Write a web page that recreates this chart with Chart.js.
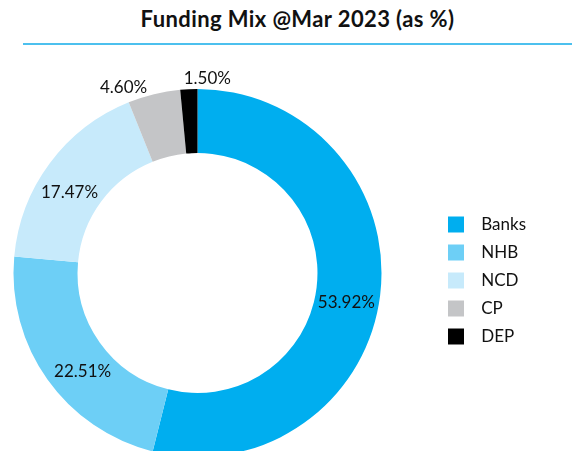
<!DOCTYPE html>
<html>
<head>
<meta charset="utf-8">
<script src="https://cdn.jsdelivr.net/npm/chart.js@4.4.0/dist/chart.umd.min.js"></script>
<style>
  html, body { margin: 0; padding: 0; background: #fff; }
  body { width: 572px; height: 451px; overflow: hidden; position: relative; font-family: Lato, sans-serif; }
  #title {
    position: absolute; left: 23px; right: 0; top: 7px; height: 36px;
    text-align: center; font-weight: bold; font-size: 22px; letter-spacing: 0.4px; line-height: 24px; color: #111;
    border-bottom: 2px solid #4cc0ee;
  }
  #wrap { position: absolute; left: -42px; top: 59px; width: 614px; height: 398px; }
</style>
</head>
<body>
<div id="title">Funding Mix @Mar 2023 (as %)</div>
<div id="wrap"><canvas id="fundingChart"></canvas></div>
<script>
const categories = ['Banks', 'NHB', 'NCD', 'CP', 'DEP'];
const shares = [53.92, 22.51, 17.47, 4.60, 1.50];
const shareLabels = ['53.92%', '22.51%', '17.47%', '4.60%', '1.50%'];

const sliceColors = ['#00aeef', '#6dcff6', '#c7eafb', '#c4c5c7', '#000000'];
// label nudges from the ring middle, in px
const labelNudge = [[-2, 11], [9, 11], [-6, 10], [-38, -38], [17, -43]];

const sliceLabels = {
    id: 'sliceLabels',
    afterDatasetsDraw(chart) {
        const ctx = chart.ctx;
        const arcs = chart.getDatasetMeta(0).data;
        ctx.save();
        ctx.font = '17px Lato';
        ctx.fillStyle = '#111';
        ctx.textAlign = 'center';
        ctx.textBaseline = 'middle';
        arcs.forEach((arc, i) => {
            const p = arc.getCenterPoint();
            ctx.fillText(shareLabels[i], p.x + labelNudge[i][0], p.y + labelNudge[i][1]);
        });
        ctx.restore();
    }
};

const fundingChart = new Chart(document.getElementById('fundingChart'), {
    type: 'doughnut',
    data: {
        labels: categories,
        datasets: [{
            data: shares,
            backgroundColor: sliceColors,
            borderWidth: 0
        }]
    },
    options: {
        responsive: true,
        maintainAspectRatio: false,
        animation: false,
        cutout: '65.2%',
        layout: { padding: { left: 0, right: 36, top: 30, bottom: 0 } },
        plugins: {
            tooltip: { enabled: false },
            legend: {
                position: 'right',
                title: { display: true, text: '', padding: 0, font: { size: 10, lineHeight: 1.5 } },
                labels: {
                    boxWidth: 16,
                    boxHeight: 16,
                    padding: 11,
                    color: '#111',
                    font: { family: 'Lato', size: 17 },
                    generateLabels(chart) {
                        const items = Chart.overrides.doughnut.plugins.legend.labels.generateLabels(chart);
                        items.forEach(it => { it.text = '  ' + it.text; });
                        return items;
                    }
                }
            }
        }
    },
    plugins: [sliceLabels]
});
</script>
</body>
</html>
